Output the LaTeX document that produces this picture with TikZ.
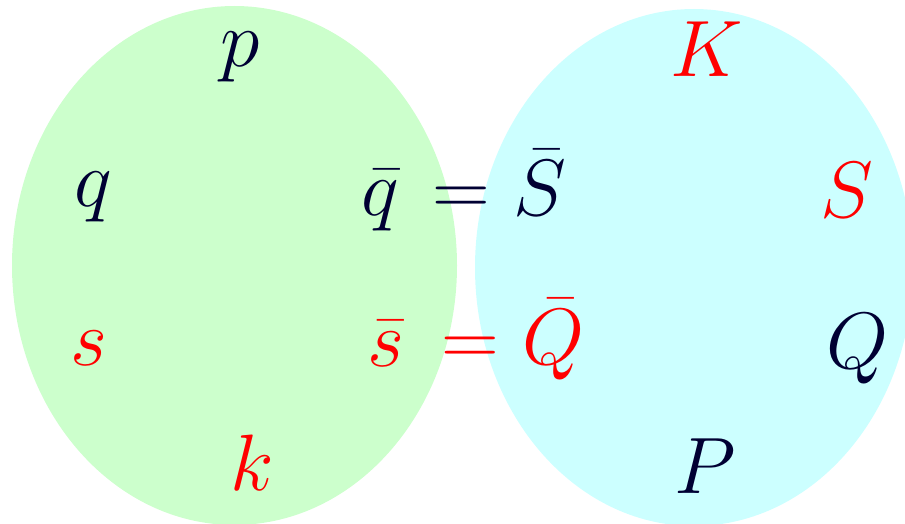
\RequirePackage{fix-cm}
\documentclass[tikz,border=0pt]{standalone}
\begin{document}
\begin{tikzpicture}[x=1pt,y=-1pt,
  lbl/.style={anchor=base,inner sep=0pt,font=\fontsize{80}{96}\selectfont,text=navy},
  rlbl/.style={lbl,text=red}]
\definecolor{navy}{rgb}{0,0,0.2}
\definecolor{lgreen}{rgb}{0.8,1,0.8}
\definecolor{lcyan}{rgb}{0.8,1,1}
\useasboundingbox (0,0) rectangle (905,524);
\clip (0,0) rectangle (905,524);
\fill[lgreen] (234.5,265.5) ellipse [x radius=222.5, y radius=259.5];
\fill[lcyan] (694,267.5) ellipse [x radius=219, y radius=258.5];
\node[lbl] (p) at (240,67) {$p$};
\node[rlbl] (K) at (707,77) {$K$};
\node[lbl] (q) at (93,206) {$q$};
\node[lbl] (qb) at (380,215) {$\bar{q}$};
\node[lbl] (eq1) at (461.5,215) {$=$};
\node[lbl] (Sb) at (540,215) {$\bar{S}$};
\node[rlbl] (S) at (847,217) {$S$};
\node[rlbl] (s) at (89,365) {$s$};
\node[rlbl] (sb) at (386,366) {$\bar{s}$};
\node[rlbl] (eq2) at (470.5,365) {$=$};
\node[rlbl] (Qb) at (554,364) {$\bar{Q}$};
\node[lbl] (Q) at (858,368) {$Q$};
\node[rlbl] (k) at (252,490) {$k$};
\node[lbl] (P) at (705,493) {$P$};
\end{tikzpicture}
\end{document}
